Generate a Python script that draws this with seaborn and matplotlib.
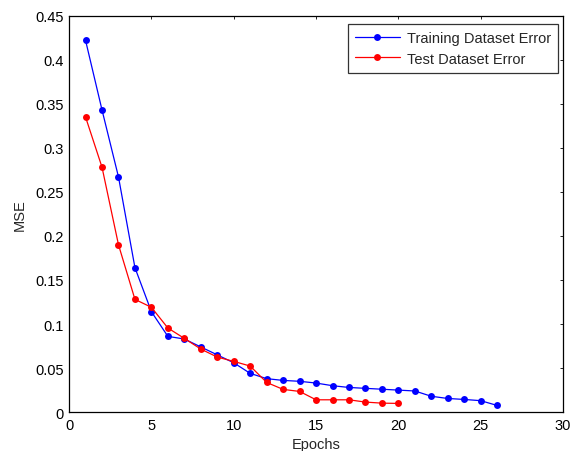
#!/usr/bin/env python3
"""Training vs test MSE over epochs."""

import matplotlib
matplotlib.use("Agg")
import matplotlib.pyplot as plt
import pandas as pd
import seaborn as sns

TRAIN_EPOCHS = list(range(1, 27))
TRAIN_MSE = [0.422, 0.343, 0.267, 0.164, 0.114, 0.086, 0.083, 0.074, 0.065, 0.056,
             0.044, 0.038, 0.036, 0.035, 0.033, 0.030, 0.028, 0.027, 0.026, 0.025,
             0.024, 0.018, 0.0155, 0.0144, 0.013, 0.0076]
TEST_EPOCHS = list(range(1, 21))
TEST_MSE = [0.335, 0.278, 0.190, 0.128, 0.119, 0.0955, 0.0837, 0.0716, 0.0625, 0.0576,
            0.0523, 0.0337, 0.0258, 0.0235, 0.014, 0.014, 0.014, 0.0114, 0.0102, 0.0099]
SERIES = ["Training Dataset Error", "Test Dataset Error"]
COLORS = ["#0000ff", "#ff0000"]
YTICK_LABELS = ["0", "0.05", "0.1", "0.15", "0.2", "0.25", "0.3", "0.35", "0.4", "0.45"]


def main() -> None:
    df = pd.concat([
        pd.DataFrame({"Epochs": TRAIN_EPOCHS, "MSE": TRAIN_MSE, "series": SERIES[0]}),
        pd.DataFrame({"Epochs": TEST_EPOCHS, "MSE": TEST_MSE, "series": SERIES[1]}),
    ], ignore_index=True)

    sns.set_style("white")
    plt.rcParams["font.family"] = ["Liberation Sans", "DejaVu Sans"]
    fs = 10.5

    fig = plt.figure(figsize=(5.71, 4.52), dpi=100)
    ax = fig.add_axes([0.121, 0.086, 0.865, 0.877])
    sns.lineplot(data=df, x="Epochs", y="MSE", hue="series", hue_order=SERIES,
                 palette=COLORS, marker="o", markersize=5, markeredgewidth=0,
                 linewidth=0.9, ax=ax)

    ax.set_xlim(0, 30)
    ax.set_ylim(0, 0.45)
    ax.set_xticks(range(0, 31, 5))
    ax.set_yticks([i * 0.05 for i in range(10)])
    ax.set_yticklabels(YTICK_LABELS)
    ax.tick_params(direction="in", top=True, right=True, length=2.5, width=0.6,
                   labelsize=fs, colors="black", pad=4)
    for spine in ax.spines.values():
        spine.set_color("black")
        spine.set_linewidth(0.9)
    ax.set_xlabel("Epochs", fontsize=fs, labelpad=4)
    ax.set_ylabel("MSE", fontsize=fs, labelpad=6)

    leg = ax.legend(title=None, loc="upper right", bbox_to_anchor=(0.99, 0.98),
                    borderaxespad=0, fontsize=fs, frameon=True, fancybox=False,
                    edgecolor="black", handlelength=3.1, handletextpad=0.45,
                    borderpad=0.5, labelspacing=0.45)
    leg.get_frame().set_linewidth(0.9)

    fig.savefig("out.png", dpi=100)


if __name__ == "__main__":
    main()
